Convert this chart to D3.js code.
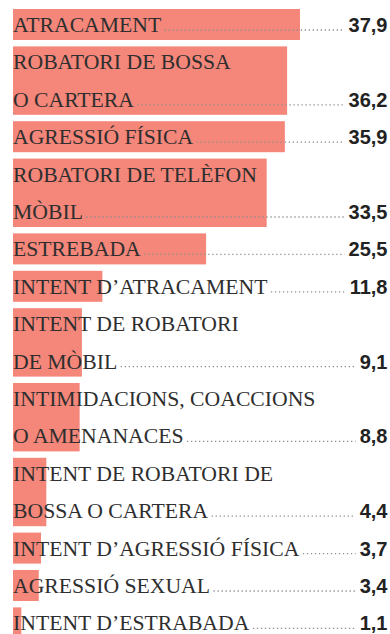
<!DOCTYPE html>
<html>
<head>
<meta charset="utf-8">
<script src="https://cdn.jsdelivr.net/npm/d3@7"></script>
<style>
  html, body { margin: 0; padding: 0; background: #fff; }
  svg { display: block; }
</style>
</head>
<body>
<svg id="chart" width="390" height="634"></svg>
<script>
// Categories (line breaks marked with "\n") and their values
const categories = [
  "ATRACAMENT",
  "ROBATORI DE BOSSA\nO CARTERA",
  "AGRESSIÓ FÍSICA",
  "ROBATORI DE TELÈFON\nMÒBIL",
  "ESTREBADA",
  "INTENT D’ATRACAMENT",
  "INTENT DE ROBATORI\nDE MÒBIL",
  "INTIMIDACIONS, COACCIONS\nO AMENANACES",
  "INTENT DE ROBATORI DE\nBOSSA O CARTERA",
  "INTENT D’AGRESSIÓ FÍSICA",
  "AGRESSIÓ SEXUAL",
  "INTENT D’ESTRABADA"
];
const values = [37.9, 36.2, 35.9, 33.5, 25.5, 11.8, 9.1, 8.8, 4.4, 3.7, 3.4, 1.1];

const svg = d3.select("#chart");
const leftX = 13, rightX = 387.5;
const lineH = 37.4, rowGap = 6.4, topY = 9;

const rows = categories.map((c, i) => ({ lines: c.split("\n"), value: values[i] }));
let acc = 0;
rows.forEach(r => { r.start = acc; acc += r.lines.length; });
const totalLines = acc;

const y = d3.scaleLinear().domain([0, totalLines]).range([topY, topY + totalLines * lineH]);
const x = d3.scaleLinear().domain([0, d3.max(values)]).range([0, 287]);
const fmt = d3.formatLocale({ decimal: ",", thousands: ".", grouping: [3], currency: ["", "€"] }).format(".1f");

const g = svg.selectAll("g.row").data(rows).join("g").attr("class", "row");

// bars sit behind the labels
g.append("rect")
  .attr("x", leftX)
  .attr("y", d => y(d.start))
  .attr("width", d => x(d.value))
  .attr("height", d => y(d.start + d.lines.length) - y(d.start) - rowGap)
  .attr("fill", "#f4867a");

// category labels, one text element per line
g.each(function(d) {
  const row = d3.select(this);
  d.lines.forEach((ln, j) => {
    const t = row.append("text")
      .attr("x", leftX)
      .attr("y", y(d.start + j) + 23)
      .attr("font-family", "'Liberation Serif', 'Times New Roman', serif")
      .attr("font-size", 21.7)
      .attr("fill", "#2e2e2e")
      .text(ln);
    if (j === d.lines.length - 1) d.labelEnd = leftX + t.node().getComputedTextLength();
  });
  const last = d.start + d.lines.length - 1;
  const base = y(last) + 23;
  const v = row.append("text")
    .attr("x", rightX)
    .attr("y", base)
    .attr("text-anchor", "end")
    .attr("font-family", "'Liberation Sans', Arial, sans-serif")
    .attr("font-weight", "bold")
    .attr("font-size", 20)
    .attr("fill", "#222")
    .text(fmt(d.value));
  const vw = v.node().getComputedTextLength();
  // dotted leader between label and value
  row.insert("line", "text")
    .attr("x1", d.labelEnd + 3.5)
    .attr("x2", rightX - vw - 4)
    .attr("y1", base - 2)
    .attr("y2", base - 2)
    .attr("stroke", "#8f8f8f")
    .attr("stroke-width", 1.3)
    .attr("stroke-dasharray", "1.3 2.7");
});
</script>
</body>
</html>
